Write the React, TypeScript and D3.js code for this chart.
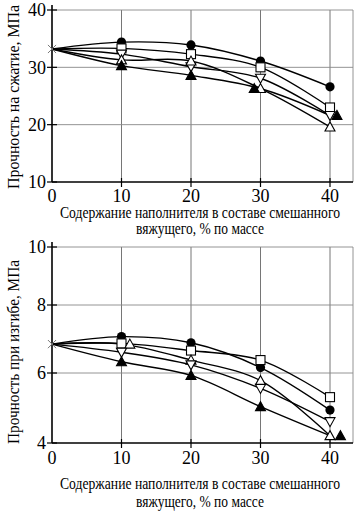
import React from "react";
import * as d3 from "d3";

const W = 356;
const H = 511;

const xValues = [0, 10, 20, 30, 40];
const xTicks = [0, 10, 20, 30, 40];

// Top chart: compressive strength, MPa
const topYTicks = [10, 20, 30, 40];
const topCircle = [33.2, 34.4, 33.9, 31.1, 26.6];
const topSquare = [33.2, 33.3, 32.3, 30.0, 23.0];
const topDown = [33.2, 32.3, 30.1, 28.1, 21.6];
const topUpOpen = [33.2, 31.3, 31.1, 26.3, 19.6];
const topUpFilled = [33.2, 30.3, 28.6, 26.3, 21.6];
const topUpFilledMarkerX = [0, 10, 20, 29.1, 41.0];

// Bottom chart: flexural strength, MPa
const botYTicks = [4, 6, 8, 10];
const botCircle = [6.85, 7.07, 6.89, 6.16, 4.94];
const botSquare = [6.85, 6.87, 6.66, 6.38, 5.31];
const botUpOpen = [6.85, 6.85, 6.38, 5.78, 4.21];
const botUpOpenMarkerX = [0, 11.2, 20, 30, 40];
const botDown = [6.85, 6.61, 6.24, 5.56, 4.61];
const botUpFilled = [6.85, 6.33, 5.93, 5.04, 4.21];
const botUpFilledMarkerX = [0, 10, 20, 30, 41.5];

const xTitle1 = "Содержание наполнителя в составе смешанного";
const xTitle2 = "вяжущего, % по массе";
const topYTitle = "Прочность на сжатие, МПа";
const botYTitle = "Прочность при изгибе, МПа";

const FONT = "Liberation Serif";

type MarkerKind = "circle" | "square" | "down" | "upOpen" | "upFilled";

function Marker({ kind, cx, cy }: { kind: MarkerKind; cx: number; cy: number }) {
  const s = 4.5;
  if (kind === "circle") return <circle cx={cx} cy={cy} r={4.6} fill="#000" />;
  if (kind === "square")
    return <rect x={cx - s} y={cy - s} width={2 * s} height={2 * s} fill="#fff" stroke="#000" strokeWidth={1.1} />;
  if (kind === "down") {
    const p = `M${cx - 5},${cy - 4}L${cx + 5},${cy - 4}L${cx},${cy + 5}Z`;
    return <path d={p} fill="#fff" stroke="#000" strokeWidth={1.1} />;
  }
  const p = `M${cx - 5},${cy + 4}L${cx + 5},${cy + 4}L${cx},${cy - 5}Z`;
  return <path d={p} fill={kind === "upFilled" ? "#000" : "#fff"} stroke="#000" strokeWidth={1.1} />;
}

type Series = { kind: MarkerKind; values: number[]; markerX?: number[] };

const textStyle = { fontFamily: FONT } as React.CSSProperties;

function Panel({
  y0,
  y1,
  yScale,
  yTicks,
  series,
  yTitle,
  titleY,
  tickLabelY,
  xTitleY1,
  xTitleY2,
}: {
  y0: number;
  y1: number;
  yScale: d3.ScaleLinear<number, number>;
  yTicks: number[];
  series: Series[];
  yTitle: string;
  titleY: number;
  tickLabelY: number;
  xTitleY1: number;
  xTitleY2: number;
}) {
  const x = d3.scaleLinear().domain([0, 40]).range([52, 330]);
  const right = 353;
  const line = d3
    .line<[number, number]>()
    .x((d) => x(d[0]))
    .y((d) => yScale(d[1]))
    .curve(d3.curveCatmullRom.alpha(0.5));
  const times = d3.symbol(d3.symbolTimes, 45)();
  const x0 = x(0);
  return (
    <g>
      {/* grid */}
      {xTicks.slice(1).map((t) => (
        <line key={"gx" + t} x1={x(t)} x2={x(t)} y1={y0} y2={y1} stroke="#666" strokeWidth={0.9} />
      ))}
      <line x1={right} x2={right} y1={y0} y2={y1} stroke="#888" strokeWidth={0.9} />
      {yTicks.slice(1).map((t) => (
        <line key={"gy" + t} x1={x0} x2={right} y1={yScale(t)} y2={yScale(t)} stroke="#888" strokeWidth={0.9} />
      ))}
      {/* axes */}
      <line x1={x0} x2={x0} y1={y0 - 5} y2={y1} stroke="#000" strokeWidth={1.6} />
      <line x1={x0} x2={right} y1={y1} y2={y1} stroke="#000" strokeWidth={1.6} />
      {yTicks.map((t) => (
        <line key={"ty" + t} x1={x0 - 5} x2={x0 + 5} y1={yScale(t)} y2={yScale(t)} stroke="#000" strokeWidth={1.2} />
      ))}
      {xTicks.slice(1).map((t) => (
        <line key={"tx" + t} x1={x(t)} x2={x(t)} y1={y1 - 4} y2={y1 + 5} stroke="#000" strokeWidth={1.2} />
      ))}
      {/* tick labels */}
      {yTicks.map((t) => (
        <text key={"ly" + t} x={x0 - 6} y={yScale(t)} dy="0.35em" textAnchor="end" style={textStyle} fontSize={18}>
          {t}
        </text>
      ))}
      {xTicks.map((t) => (
        <text key={"lx" + t} x={x(t)} y={tickLabelY} dy="0.3em" textAnchor="middle" style={textStyle} fontSize={18}>
          {t}
        </text>
      ))}
      {/* titles */}
      <text
        transform={`translate(13,${titleY}) rotate(-90)`}
        textAnchor="middle"
        dy="0.35em"
        style={textStyle}
        fontSize={16}
        textLength={184}
        lengthAdjust="spacingAndGlyphs"
      >
        {yTitle}
      </text>
      <text
        x={200}
        y={xTitleY1}
        dy="0.35em"
        textAnchor="middle"
        style={textStyle}
        fontSize={16}
        textLength={280}
        lengthAdjust="spacingAndGlyphs"
      >
        {xTitle1}
      </text>
      <text
        x={200}
        y={xTitleY2}
        dy="0.35em"
        textAnchor="middle"
        style={textStyle}
        fontSize={16}
        textLength={128}
        lengthAdjust="spacingAndGlyphs"
      >
        {xTitle2}
      </text>
      {/* lines */}
      {series.map((s, i) => (
        <path
          key={"l" + i}
          d={line(xValues.map((xv, j) => [xv, s.values[j]] as [number, number])) || ""}
          fill="none"
          stroke="#000"
          strokeWidth={1.4}
        />
      ))}
      {/* start marker */}
      <path d={times || ""} transform={`translate(${x0},${yScale(series[0].values[0])})`} stroke="#777" strokeWidth={1} fill="none" />
      {/* markers */}
      {series.map((s, i) =>
        s.values.slice(1).map((v, j) => {
          const xv = s.markerX ? s.markerX[j + 1] : xValues[j + 1];
          return <Marker key={`m${i}-${j}`} kind={s.kind} cx={x(xv)} cy={yScale(v)} />;
        })
      )}
    </g>
  );
}

export default function App() {
  const yTop = d3.scaleLinear().domain([10, 40]).range([182, 10]);
  const yBot = d3.scaleLinear().domain([4, 6, 8, 10]).range([443, 373, 305, 247]);

  const topSeries: Series[] = [
    { kind: "circle", values: topCircle },
    { kind: "square", values: topSquare },
    { kind: "down", values: topDown },
    { kind: "upOpen", values: topUpOpen },
    { kind: "upFilled", values: topUpFilled, markerX: topUpFilledMarkerX },
  ];
  const botSeries: Series[] = [
    { kind: "circle", values: botCircle },
    { kind: "square", values: botSquare },
    { kind: "upOpen", values: botUpOpen, markerX: botUpOpenMarkerX },
    { kind: "down", values: botDown },
    { kind: "upFilled", values: botUpFilled, markerX: botUpFilledMarkerX },
  ];

  return (
    <svg
      width={W}
      height={H}
      viewBox={`0 0 ${W} ${H}`}
      style={{ position: "absolute", left: 0, top: 0, background: "#fff", fontFamily: FONT }}
    >
      <rect width={W} height={H} fill="#fff" />
      <Panel
        y0={10}
        y1={182}
        yScale={yTop}
        yTicks={topYTicks}
        series={topSeries}
        yTitle={topYTitle}
        titleY={97}
        tickLabelY={197}
        xTitleY1={212}
        xTitleY2={228}
      />
      <Panel
        y0={247}
        y1={443}
        yScale={yBot}
        yTicks={botYTicks}
        series={botSeries}
        yTitle={botYTitle}
        titleY={352}
        tickLabelY={459}
        xTitleY1={483}
        xTitleY2={501}
      />
    </svg>
  );
}
